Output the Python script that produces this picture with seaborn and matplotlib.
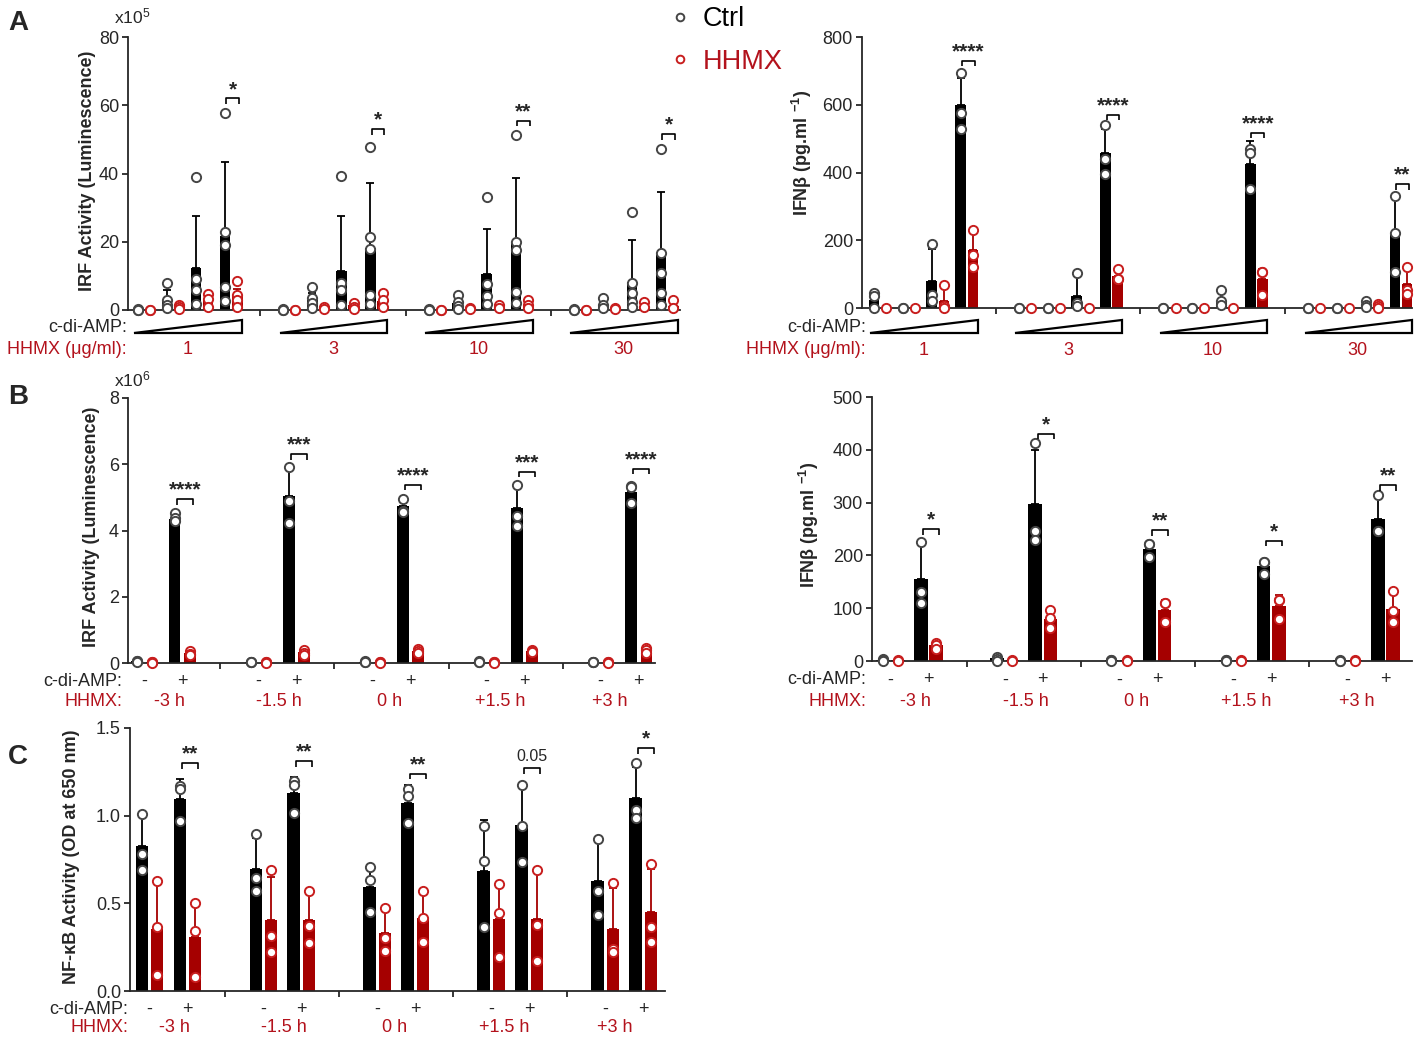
import numpy as np
import pandas as pd
import matplotlib
matplotlib.use("Agg")
import matplotlib.pyplot as plt
import seaborn as sns
from matplotlib.patches import Polygon
from matplotlib.lines import Line2D

sns.set_style("ticks")
plt.rcParams['font.family'] = ['Liberation Sans', 'DejaVu Sans']
plt.rcParams['mathtext.default'] = 'regular'

# ------------------------------------------------------------------ data
A_GROUPS = ["1", "3", "10", "30"]                # HHMX (ug/ml)
TIME_GROUPS = ["-3 h", "-1.5 h", "0 h", "+1.5 h", "+3 h"]
CDA_SIGNS = ["-", "+"]

# Panel A left: IRF activity (x10^5), [group][dose]
A_IRF_CTRL_MEAN = [[0, 3, 12.4, 21.8], [0, 3, 11.5, 18.3], [0, 2, 10.5, 19.5], [0, 1.5, 8.3, 16]]
A_IRF_CTRL_ERR = [[0, 5.8, 27.4, 43.4], [0, 4.9, 27.4, 37.2], [0, 3.5, 23.6, 38.8], [0, 2.5, 20.4, 34.5]]
A_IRF_CTRL_PTS = [
    [[0.2, 0, 0], [8, 3, 1.5, 0.5], [38.9, 9.2, 5.8, 1.8], [57.7, 23, 19, 6.6, 2.7]],
    [[0.2, 0, 0], [6.8, 3.4, 2, 0.5], [39.4, 7.8, 5.8, 1.5], [47.8, 21.5, 18, 4.4, 1.8]],
    [[0.2, 0, 0], [4.5, 2.4, 1.2, 0.3], [33, 7.7, 4.2, 1.8], [51.4, 20, 17.5, 5.3, 2]],
    [[0.2, 0, 0], [3.4, 1.5, 0.5], [28.6, 7.8, 4.9, 2.4, 1], [47.1, 16.8, 10.7, 4.9, 1.5]],
]
A_IRF_HHMX_MEAN = [[0, 0.8, 2.8, 4], [0, 0.5, 1.5, 2.5], [0, 0.4, 1, 1.6], [0, 0.4, 1.2, 1.3]]
A_IRF_HHMX_ERR = [[0, 1.5, 4.7, 6.3], [0, 0.8, 2.2, 4.2], [0, 0.6, 1.6, 2.8], [0, 0.6, 2.2, 2.6]]
A_IRF_HHMX_PTS = [
    [[0, 0.1], [1.5, 0.8, 0.2], [4.7, 3.2, 1], [8.6, 4.4, 2.9, 1]],
    [[0, 0.1], [0.8, 0.3], [2.1, 1, 0.3], [4.9, 2.9, 0.8]],
    [[0, 0.1], [0.6, 0.2], [1.5, 0.5], [2.9, 1.5, 0.5]],
    [[0, 0.1], [0.6, 0.2], [2.4, 1], [2.9, 0.5]],
]
A_IRF_SIG = ["*", "*", "**", "*"]
A_IRF_SIG_Y = [62, 53, 55.5, 51.5]

# Panel A right: IFNb (pg/ml), [group][dose]
A_IFN_CTRL_MEAN = [[25, 0, 80, 598], [0, 0, 36, 459], [0, 0, 20, 424], [0, 0, 12, 220]]
A_IFN_CTRL_ERR = [[40, 0, 175, 680], [0, 0, 93, 527], [0, 0, 45, 493], [0, 0, 20, 327]]
A_IFN_CTRL_PTS = [
    [[44, 34, 0], [0, 0], [188, 39, 20], [693, 576, 527]],
    [[0, 0], [0, 0], [102, 15, 5], [541, 439, 395]],
    [[0, 0], [0, 0], [52, 20, 10], [468, 459, 351]],
    [[0, 0], [0, 0], [20, 10, 3], [332, 220, 107]],
]
A_IFN_HHMX_MEAN = [[0, 0, 22, 170], [0, 0, 0, 95], [0, 0, 0, 85], [0, 0, 5, 72]]
A_IFN_HHMX_ERR = [[0, 0, 68, 228], [0, 0, 0, 114], [0, 0, 0, 115], [0, 0, 12, 117]]
A_IFN_HHMX_PTS = [
    [[0], [0], [68, 5, 0], [231, 156, 122]],
    [[0], [0], [0], [114, 85, 85]],
    [[0], [0], [0], [107, 107, 39]],
    [[0], [0], [12, 5, 0], [122, 54, 40]],
]
A_IFN_SIG = ["****", "****", "****", "**"]
A_IFN_SIG_Y = [730, 570, 517, 366]

# Panel B left: IRF activity (x10^6), [group][-,+]
B_IRF_CTRL_MEAN = [[0.05, 4.34], [0.03, 5.03], [0.04, 4.73], [0.04, 4.67], [0.03, 5.17]]
B_IRF_CTRL_ERR = [[0.06, 4.5], [0.04, 5.85], [0.05, 4.9], [0.05, 5.35], [0.04, 5.3]]
B_IRF_CTRL_PTS = [
    [[0.06, 0.05, 0.04], [4.52, 4.39, 4.29]],
    [[0.04, 0.03, 0.02], [5.91, 4.9, 4.24]],
    [[0.05, 0.04, 0.03], [4.95, 4.6, 4.57]],
    [[0.05, 0.04, 0.03], [5.38, 4.44, 4.14]],
    [[0.04, 0.03, 0.02], [5.33, 5.3, 4.83]],
]
B_IRF_HHMX_MEAN = [[0.02, 0.3], [0.02, 0.33], [0.02, 0.35], [0.02, 0.36], [0.02, 0.38]]
B_IRF_HHMX_ERR = [[0.03, 0.37], [0.03, 0.4], [0.03, 0.43], [0.03, 0.42], [0.03, 0.46]]
B_IRF_HHMX_PTS = [
    [[0.03, 0.02, 0.01], [0.35, 0.28, 0.25]],
    [[0.03, 0.02, 0.01], [0.4, 0.3, 0.25]],
    [[0.03, 0.02, 0.01], [0.42, 0.35, 0.3]],
    [[0.03, 0.02, 0.01], [0.4, 0.36, 0.32]],
    [[0.03, 0.02, 0.01], [0.45, 0.4, 0.3]],
]
B_IRF_SIG = ["****", "***", "****", "***", "****"]
B_IRF_SIG_Y = [4.95, 6.3, 5.38, 5.78, 5.87]

# Panel B right: IFNb (pg/ml), [group][-,+]
B_IFN_CTRL_MEAN = [[2, 155], [5, 298], [2, 213], [2, 179], [1, 268]]
B_IFN_CTRL_ERR = [[3, 220], [8, 399], [3, 220], [3, 188], [2, 308]]
B_IFN_CTRL_PTS = [
    [[3, 1, 0], [225, 131, 109]],
    [[8, 3, 0], [412, 247, 229]],
    [[2, 1, 0], [222, 222, 197]],
    [[2, 1, 0], [187, 187, 165]],
    [[1, 0, 0], [314, 247, 246]],
]
B_IFN_HHMX_MEAN = [[1, 30], [1, 80], [1, 97], [1, 105], [1, 99]]
B_IFN_HHMX_ERR = [[1, 36], [1, 96], [1, 115], [1, 125], [1, 131]]
B_IFN_HHMX_PTS = [
    [[1, 0], [34, 31, 23]],
    [[1, 0], [96, 82, 63]],
    [[1, 0], [110, 109, 74]],
    [[1, 0], [116, 115, 80]],
    [[1, 0], [133, 95, 74]],
]
B_IFN_SIG = ["*", "*", "**", "*", "**"]
B_IFN_SIG_Y = [250, 430, 248, 228, 333]

# Panel C: NF-kB activity (OD 650 nm), [group][-,+]
C_CTRL_MEAN = [[0.826, 1.096], [0.693, 1.128], [0.593, 1.071], [0.686, 0.948], [0.627, 1.103]]
C_CTRL_ERR = [[1.0, 1.207], [0.873, 1.222], [0.718, 1.175], [0.977, 1.175], [0.854, 1.279]]
C_CTRL_PTS = [
    [[1.01, 0.78, 0.69], [1.17, 1.15, 0.967]],
    [[0.897, 0.646, 0.57], [1.2, 1.175, 1.015]],
    [[0.708, 0.633, 0.448], [1.152, 1.113, 0.958]],
    [[0.939, 0.74, 0.363], [1.175, 0.94, 0.735]],
    [[0.869, 0.571, 0.433], [1.298, 1.033, 0.986]],
]
C_HHMX_MEAN = [[0.353, 0.306], [0.404, 0.404], [0.331, 0.419], [0.412, 0.412], [0.353, 0.453]]
C_HHMX_ERR = [[0.627, 0.504], [0.65, 0.57], [0.476, 0.561], [0.618, 0.684], [0.59, 0.693]]
C_HHMX_PTS = [
    [[0.627, 0.363, 0.089], [0.504, 0.344, 0.079]],
    [[0.688, 0.316, 0.221], [0.57, 0.372, 0.272]],
    [[0.476, 0.302, 0.227], [0.57, 0.416, 0.281]],
    [[0.608, 0.444, 0.193], [0.688, 0.378, 0.17]],
    [[0.618, 0.24, 0.225], [0.722, 0.363, 0.278]],
]
C_SIG = ["**", "**", "**", "0.05", "*"]
C_SIG_Y = [1.30, 1.31, 1.24, 1.27, 1.385]

# ------------------------------------------------------------------ style
CTRL_BAR = "#000000"
HHMX_BAR = "#a50000"
CTRL_EDGE = "#454545"
HHMX_EDGE = "#c81e1e"
RED_TEXT = "#b3121c"
TICK_FS = 13
LAB_FS = 13
SUB_FS = 13

W, H = 1417, 1040
fig = plt.figure(figsize=(W / 100, H / 100), dpi=100)


def add_ax(x0, x1, ytop, ybot):
    ax = fig.add_axes([x0 / W, 1 - ybot / H, (x1 - x0) / W, (ybot - ytop) / H])
    ax._px = (x0, x1, ytop, ybot)
    return ax


def yfrac(ax, ypx):
    x0, x1, ytop, ybot = ax._px
    return (ybot - ypx) / (ybot - ytop)


def flat(nested):
    return [v for row in nested for v in row]


def draw(ax, pos_c, pos_h, cm, ce, cp, hm, he, hp, width, ylim, yticks, yticklabels,
         xlim, seps, sig, sig_y, sig_xc, sig_xh):
    cm, ce, cp, hm, he, hp = map(flat, (cm, ce, cp, hm, he, hp))
    ax.bar(pos_c, cm, width=width, color=CTRL_BAR, zorder=2, linewidth=0)
    ax.bar(pos_h, hm, width=width, color=HHMX_BAR, zorder=2, linewidth=0)
    for xs, ms, es, col in ((pos_c, cm, ce, CTRL_BAR), (pos_h, hm, he, HHMX_BAR)):
        for x, m, e in zip(xs, ms, es):
            if e > m + 1e-9:
                ax.errorbar([x], [m], yerr=[[0], [e - m]], fmt="none", ecolor=col,
                            elinewidth=1.3, capsize=3.2, capthick=1.3, zorder=3)
    dfc = pd.DataFrame([(x, v) for x, pts in zip(pos_c, cp) for v in pts], columns=["x", "y"])
    dfh = pd.DataFrame([(x, v) for x, pts in zip(pos_h, hp) for v in pts], columns=["x", "y"])
    sns.scatterplot(data=dfc, x="x", y="y", ax=ax, color="white", edgecolor=CTRL_EDGE,
                    linewidth=1.4, s=44, zorder=4, clip_on=False, legend=False)
    sns.scatterplot(data=dfh, x="x", y="y", ax=ax, color="white", edgecolor=HHMX_EDGE,
                    linewidth=1.4, s=44, zorder=4, clip_on=False, legend=False)
    ax.set_xlabel("")
    ax.set_ylabel("")
    ax.set_xlim(*xlim)
    ax.set_ylim(*ylim)
    ax.set_yticks(yticks)
    ax.set_yticklabels(yticklabels, fontsize=TICK_FS)
    ax.set_xticks(seps)
    ax.set_xticklabels([])
    sns.despine(ax=ax)
    for sp in ("left", "bottom"):
        ax.spines[sp].set_linewidth(1.3)
    ax.tick_params(axis="both", width=1.3, length=4.5, pad=2)
    # significance brackets
    x0, x1, ytop, ybot = ax._px
    leg = 5.5 / (ybot - ytop) * (ylim[1] - ylim[0])
    for t, yb, xa, xb in zip(sig, sig_y, sig_xc, sig_xh):
        ax.plot([xa, xa, xb, xb], [yb - leg, yb, yb, yb - leg], color="black", lw=1.2,
                clip_on=False, zorder=5, solid_capstyle="butt")
        if "*" in t:
            ax.annotate(t, xy=((xa + xb) / 2, yb), xytext=(0, 2.5), textcoords="offset points",
                        ha="center", va="baseline", fontsize=15, fontweight="bold",
                        annotation_clip=False)
        else:
            ax.annotate(t, xy=((xa + xb) / 2, yb), xytext=(0, 5), textcoords="offset points",
                        ha="center", va="baseline", fontsize=11.5, annotation_clip=False)


# ------------------------------------------------------------------ panel A
OFF_A = 0.21
pos_ac = [g * 5 + d - OFF_A for g in range(4) for d in range(4)]
pos_ah = [g * 5 + d + OFF_A for g in range(4) for d in range(4)]
last_c = [g * 5 + 3 - OFF_A + 0.04 for g in range(4)]
last_h = [g * 5 + 3 + OFF_A + 0.06 for g in range(4)]

axA1 = add_ax(128, 680, 37, 310)
draw(axA1, pos_ac, pos_ah, A_IRF_CTRL_MEAN, A_IRF_CTRL_ERR, A_IRF_CTRL_PTS,
     A_IRF_HHMX_MEAN, A_IRF_HHMX_ERR, A_IRF_HHMX_PTS, 0.36, (0, 80),
     [0, 20, 40, 60, 80], ["0", "20", "40", "60", "80"], (-0.55, 18.44), [4, 9, 14],
     A_IRF_SIG, A_IRF_SIG_Y, last_c, last_h)

axA2 = add_ax(862, 1412, 37, 308)
draw(axA2, pos_ac, pos_ah, A_IFN_CTRL_MEAN, A_IFN_CTRL_ERR, A_IFN_CTRL_PTS,
     A_IFN_HHMX_MEAN, A_IFN_HHMX_ERR, A_IFN_HHMX_PTS, 0.37, (0, 800),
     [0, 200, 400, 600, 800], ["0", "200", "400", "600", "800"], (-0.62, 18.38), [4, 9, 14],
     A_IFN_SIG, A_IFN_SIG_Y, last_c, last_h)

for ax, xr in ((axA1, 127), (axA2, 866)):
    tr = ax.get_xaxis_transform()
    yb, yt = yfrac(ax, 333), yfrac(ax, 320)
    for g, lab in enumerate(A_GROUPS):
        xl, xr_ = g * 5 - 0.33, g * 5 + 3.37
        ax.add_patch(Polygon([[xl, yb], [xr_, yb], [xr_, yt]], closed=True, facecolor="white",
                             edgecolor="black", lw=1.6, transform=tr, clip_on=False))
        ax.text(g * 5 + 1.5, yfrac(ax, 350), lab, transform=tr, ha="center", va="center",
                fontsize=SUB_FS, color=RED_TEXT)
    fig.text(xr / W, 1 - 327 / H, "c-di-AMP:", ha="right", va="center", fontsize=SUB_FS)
    fig.text(xr / W, 1 - 350 / H, "HHMX (\u03bcg/ml):", ha="right", va="center",
             fontsize=SUB_FS, color=RED_TEXT)

fig.text(88 / W, 1 - 171 / H, "IRF Activity (Luminescence)", rotation=90, ha="center",
         va="center", fontsize=LAB_FS, fontweight="bold")
fig.text(802 / W, 1 - 153 / H, "IFN\u03b2 (pg.ml $^{-1}$)", rotation=90, ha="center",
         va="center", fontsize=LAB_FS, fontweight="bold")
fig.text(114 / W, 1 - 23 / H, "x10$^{5}$", ha="left", va="baseline", fontsize=12.5)

# ------------------------------------------------------------------ panel B / C
OFF_B = 0.2
pos_bc = [g * 3 + s - OFF_B for g in range(5) for s in range(2)]
pos_bh = [g * 3 + s + OFF_B for g in range(5) for s in range(2)]
plus_c = [g * 3 + 1 - OFF_B + 0.06 for g in range(5)]
plus_h = [g * 3 + 1 + OFF_B + 0.08 for g in range(5)]
SEPS_B = [2, 5, 8, 11]

axB1 = add_ax(128, 655, 398, 663)
draw(axB1, pos_bc, pos_bh, B_IRF_CTRL_MEAN, B_IRF_CTRL_ERR, B_IRF_CTRL_PTS,
     B_IRF_HHMX_MEAN, B_IRF_HHMX_ERR, B_IRF_HHMX_PTS, 0.3, (0, 8),
     [0, 2, 4, 6, 8], ["0", "2", "4", "6", "8"], (-0.43, 13.43), SEPS_B,
     B_IRF_SIG, B_IRF_SIG_Y, plus_c, plus_h)

axB2 = add_ax(872, 1412, 397, 661)
draw(axB2, pos_bc, pos_bh, B_IFN_CTRL_MEAN, B_IFN_CTRL_ERR, B_IFN_CTRL_PTS,
     B_IFN_HHMX_MEAN, B_IFN_HHMX_ERR, B_IFN_HHMX_PTS, 0.36, (0, 500),
     [0, 100, 200, 300, 400, 500], ["0", "100", "200", "300", "400", "500"],
     (-0.49, 13.7), SEPS_B, B_IFN_SIG, B_IFN_SIG_Y, plus_c, plus_h)

axC = add_ax(130, 665, 728, 991)
draw(axC, pos_bc, pos_bh, C_CTRL_MEAN, C_CTRL_ERR, C_CTRL_PTS,
     C_HHMX_MEAN, C_HHMX_ERR, C_HHMX_PTS, 0.33, (0, 1.5),
     [0, 0.5, 1.0, 1.5], ["0.0", "0.5", "1.0", "1.5"], (-0.51, 13.57), SEPS_B,
     C_SIG, C_SIG_Y, plus_c, plus_h)

for ax, xr, y1, y2 in ((axB1, 122, 681, 702), (axB2, 866, 680, 701), (axC, 128, 1009, 1028)):
    tr = ax.get_xaxis_transform()
    for g, lab in enumerate(TIME_GROUPS):
        for s, sign in enumerate(CDA_SIGNS):
            ax.text(g * 3 + s, yfrac(ax, y1), sign, transform=tr, ha="center", va="center",
                    fontsize=SUB_FS)
        ax.text(0.65 + g * 2.9, yfrac(ax, y2), lab, transform=tr, ha="center", va="center",
                fontsize=SUB_FS, color=RED_TEXT)
    fig.text(xr / W, 1 - y1 / H, "c-di-AMP:", ha="right", va="center", fontsize=SUB_FS)
    fig.text(xr / W, 1 - y2 / H, "HHMX:", ha="right", va="center", fontsize=SUB_FS,
             color=RED_TEXT)

fig.text(91 / W, 1 - 527 / H, "IRF Activity (Luminescence)", rotation=90, ha="center",
         va="center", fontsize=LAB_FS, fontweight="bold")
fig.text(809 / W, 1 - 525 / H, "IFN\u03b2 (pg.ml $^{-1}$)", rotation=90, ha="center",
         va="center", fontsize=LAB_FS, fontweight="bold")
fig.text(72 / W, 1 - 857 / H, "NF-\u03baB Activity (OD at 650 nm)", rotation=90, ha="center",
         va="center", fontsize=LAB_FS, fontweight="bold")
fig.text(114 / W, 1 - 386 / H, "x10$^{6}$", ha="left", va="baseline", fontsize=12.5)

# ------------------------------------------------------------------ letters / legend
for lab, yb in (("A", 30), ("B", 404), ("C", 764)):
    fig.text(8 / W, 1 - yb / H, lab, ha="left", va="baseline", fontsize=20, fontweight="bold")

handles = [Line2D([], [], ls="", marker="o", ms=5.5, mfc="white", mec=CTRL_EDGE, mew=1.4),
           Line2D([], [], ls="", marker="o", ms=5.5, mfc="white", mec=HHMX_EDGE, mew=1.4)]
leg = fig.legend(handles, ["Ctrl", "HHMX"], loc="upper left",
                 bbox_to_anchor=(669 / W, 1 - 6 / H), frameon=False, fontsize=19.5,
                 handlelength=0.8, handletextpad=0.45, labelspacing=0.62,
                 borderpad=0, borderaxespad=0)
leg.get_texts()[0].set_color("black")
leg.get_texts()[1].set_color(RED_TEXT)

fig.savefig("out.png", dpi=100)
